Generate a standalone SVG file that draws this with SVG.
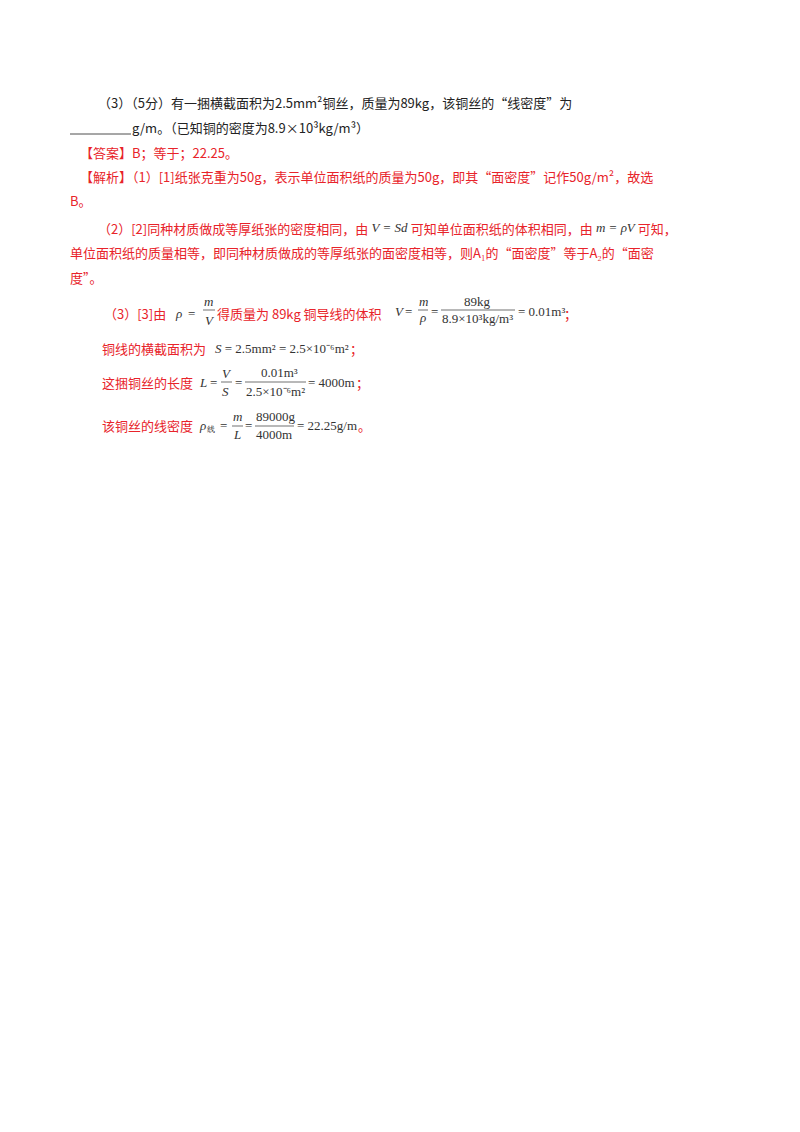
<svg xmlns="http://www.w3.org/2000/svg" width="800" height="1132" viewBox="0 0 800 1132">
<style>
text{font-family:"Noto Sans CJK SC","Liberation Serif",sans-serif;font-size:13px}
.k{fill:#222}
.r{fill:#e8232a}
.m{font-family:"Liberation Serif",serif;font-size:13px;fill:#333}
.i{font-style:italic}
.s{font-size:8px}
.fl{stroke:#333;stroke-width:0.7}
</style>
<rect width="800" height="1132" fill="#fff"/>
<g id="question">
<text class="k" x="98" y="108">（3）（5分）有一捆横截面积为2.5mm²铜丝，质量为89kg，该铜丝的“线密度”为</text>
<line x1="70" y1="134" x2="131" y2="134" stroke="#222" stroke-width="0.8"/>
<text class="k" x="132" y="133">g/m。（已知铜的密度为8.9×10³kg/m³）</text>
</g>
<g id="answer">
<text class="r" x="80" y="158">【答案】B；等于；22.25。</text>
<text class="r" x="80" y="182">【解析】（1）[1]纸张克重为50g，表示单位面积纸的质量为50g，即其“面密度”记作50g/m²，故选</text>
<text class="r" x="70" y="206">B。</text>
<text class="r" x="98" y="234">（2）[2]同种材质做成等厚纸张的密度相同，由<tspan class="m i" dy="-2"> V = Sd </tspan><tspan dy="2">可知单位面积纸的体积相同，由</tspan><tspan class="m i" dy="-2"> m = ρV </tspan><tspan dy="2">可知，</tspan></text>
<text class="r" x="70" y="258">单位面积纸的质量相等，即同种材质做成的等厚纸张的面密度相等，则A₁的“面密度”等于A₂的“面密</text>
<text class="r" x="70" y="283">度”。</text>
</g>
<g id="solution3">
<text class="r" x="104" y="319">（3）[3]由</text>
<g transform="translate(4,0)">
<text class="m i" x="172" y="318">ρ</text><text class="m" x="184" y="318">=</text>
<text class="m i" x="200" y="306">m</text><line class="fl" x1="199" y1="310" x2="211" y2="310"/><text class="m i" x="201" y="325">V</text>
<text class="r" x="213" y="319">得质量为 89kg 铜导线的体积</text>
</g>
<g transform="translate(8,0)">
<text class="m i" x="387" y="316" font-size="11">V</text><text class="m" x="397" y="316" font-size="11">=</text>
<text class="m i" x="411" y="306" font-size="11">m</text><line class="fl" x1="410" y1="310" x2="420" y2="310"/><text class="m i" x="412" y="322" font-size="11">ρ</text>
<text class="m" x="423" y="316" font-size="11">=</text>
<text class="m" x="456" y="306" font-size="11">89kg</text><line class="fl" x1="433" y1="310" x2="507" y2="310"/><text class="m" x="434" y="323" font-size="10">8.9×10³kg/m³</text>
<text class="m" x="510" y="316" font-size="11">= 0.01m³</text>
<text class="r" x="556" y="319">；</text>
</g>
<text class="r" x="102" y="354">铜线的横截面积为</text>
<text class="m" x="215" y="353"><tspan class="i">S</tspan> = 2.5mm² = 2.5×10⁻⁶m²</text>
<text class="r" x="350" y="354">；</text>
<text class="r" x="102" y="388">这捆铜丝的长度</text>
<text class="m i" x="200" y="387">L</text><text class="m" x="210" y="387">=</text>
<text class="m i" x="222" y="378">V</text><line class="fl" x1="221" y1="382" x2="232" y2="382"/><text class="m i" x="222" y="396">S</text>
<text class="m" x="235" y="387">=</text>
<text class="m" x="261" y="377">0.01m³</text><line class="fl" x1="245" y1="382" x2="306" y2="382"/><text class="m" x="246" y="396">2.5×10⁻⁶m²</text>
<text class="m" x="308" y="387">= 4000m</text>
<text class="r" x="356" y="388">；</text>
<text class="r" x="102" y="431">该铜丝的线密度</text>
<text class="m i" x="200" y="430">ρ</text><text class="m s" x="207" y="432">线</text>
<text class="m" x="220" y="430">=</text>
<text class="m i" x="233" y="421">m</text><line class="fl" x1="232" y1="426" x2="243" y2="426"/><text class="m i" x="234" y="439">L</text>
<text class="m" x="245" y="430">=</text>
<text class="m" x="256" y="421">89000g</text><line class="fl" x1="255" y1="426" x2="294" y2="426"/><text class="m" x="256" y="439">4000m</text>
<text class="m" x="297" y="430">= 22.25g/m</text>
<text class="r" x="358" y="431">。</text>
</g>
</svg>
